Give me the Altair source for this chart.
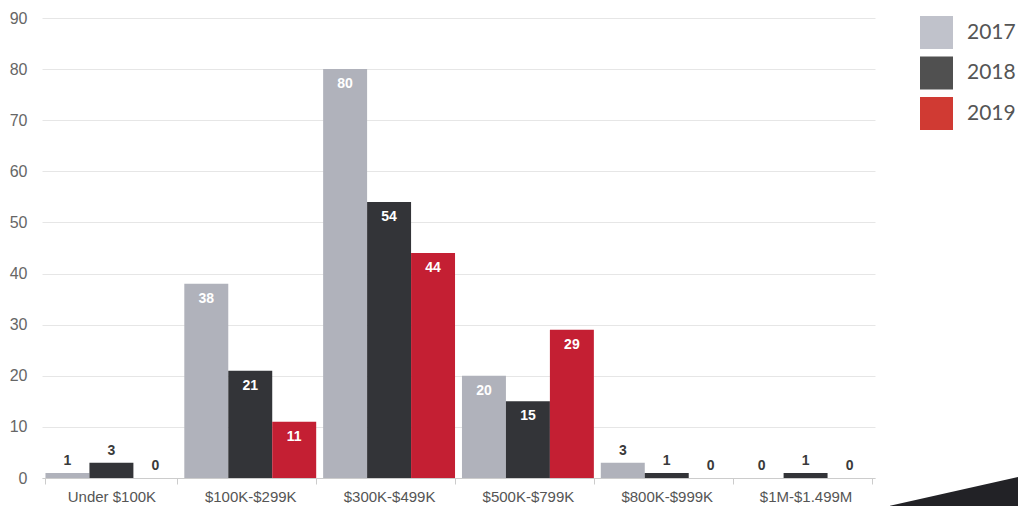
import altair as alt
import pandas as pd

categories = ["Under $100K", "$100K-$299K", "$300K-$499K", "$500K-$799K", "$800K-$999K", "$1M-$1.499M"]
years = ["2017", "2018", "2019"]
v2017 = [1, 38, 80, 20, 3, 0]
v2018 = [3, 21, 54, 15, 1, 1]
v2019 = [0, 11, 44, 29, 0, 0]

bar_colors = ["#b0b2bb", "#333438", "#c41f33"]
legend_colors = ["#c0c2cb", "#505050", "#d03a33"]

rows = []
for i, c in enumerate(categories):
    for y, vals in zip(years, [v2017, v2018, v2019]):
        rows.append({"category": c, "year": y, "value": vals[i]})
df = pd.DataFrame(rows)

x = alt.X("category:N", sort=categories, title=None,
          scale=alt.Scale(paddingInner=0.05, paddingOuter=0.025),
          axis=alt.Axis(labelAngle=0, labelFontSize=15, labelColor="#555", labelFont="Liberation Sans",
                        domainColor="#cccccc", tickColor="#cccccc", tickBand="extent", tickSize=6,
                        labelPadding=5, grid=False))
xo = alt.XOffset("year:N", sort=years, scale=alt.Scale(paddingInner=0, paddingOuter=0))
y = alt.Y("value:Q", title=None,
          scale=alt.Scale(domain=[0, 90], nice=False),
          axis=alt.Axis(values=list(range(0, 100, 10)), labelFontSize=16, labelColor="#666",
                        labelFont="Liberation Sans", domain=False, ticks=False, labelPadding=15,
                        gridColor="#e6e6e6"))

base = alt.Chart(df).encode(x=x, xOffset=xo, y=y)

bars = base.mark_bar().encode(
    color=alt.Color("year:N", sort=years, scale=alt.Scale(domain=years, range=bar_colors), legend=None)
)

inside = base.transform_filter("datum.value >= 10").mark_text(
    baseline="top", dy=8, color="white", fontWeight="bold", fontSize=14, font="Liberation Sans"
).encode(text="value:Q")

outside = base.transform_filter("datum.value < 10").mark_text(
    baseline="bottom", dy=-5, color="#3a3a3a", fontWeight="bold", fontSize=14, font="Liberation Sans"
).encode(text="value:Q")

legend_layer = alt.Chart(df).transform_filter("datum.value < 0").mark_square(filled=True).encode(
    color=alt.Color("year:N", sort=years, scale=alt.Scale(domain=years, range=legend_colors),
                    legend=alt.Legend(title=None, orient="none", legendX=878, legendY=-2,
                                      symbolType="square", symbolSize=1089, symbolStrokeWidth=0,
                                      symbolOpacity=1, labelFontSize=21, labelFont="Lato",
                                      labelColor="#555", labelOffset=14, rowPadding=7.5))
)

deco = alt.Chart(pd.DataFrame({"a": [0]})).mark_point(
    shape="M -1 0.2 L 1 -0.25 L 1 0.6 L -1 0.6 Z", filled=True, color="#222226", opacity=1, size=16384
).encode(x=alt.value(912), y=alt.value(475))

chart = alt.layer(bars, inside, outside, legend_layer, deco).resolve_scale(color="independent").properties(
    width=833, height=460,
    background="white",
    autosize=alt.AutoSizeParams(type="none"),
    padding={"left": 42, "top": 18, "right": 143, "bottom": 28},
).configure_view(stroke="transparent", strokeWidth=0)

chart.save("out.html", embed_options={"renderer": "svg", "actions": False})
